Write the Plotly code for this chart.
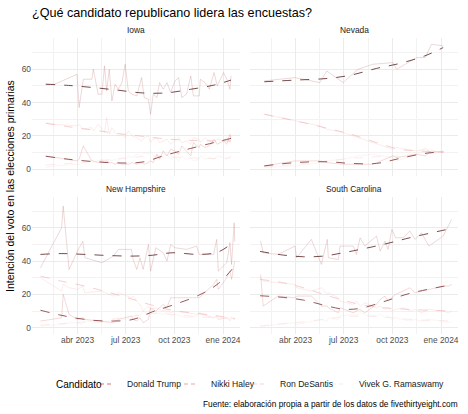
import plotly.graph_objects as go

# --- candidates and colours ---
candidatos = ["Donald Trump", "Nikki Haley", "Ron DeSantis", "Vivek G. Ramaswamy"]
col_raw = ["rgba(190,110,110,0.45)", "rgba(205,105,105,0.42)",
           "rgba(240,170,170,0.38)", "rgba(246,210,210,0.4)"]
col_fit = ["rgba(95,45,45,0.85)", "rgba(125,50,50,0.8)",
           "rgba(240,175,175,0.6)", "rgba(248,222,222,0.6)"]
col_key = ["#cf7a7a", "#e9a5a5", "#f5d3d3", "#fbeaea"]

# --- Iowa polls ---
ia_dates = ["2023-01-31", "2023-02-17", "2023-03-31", "2023-04-04", "2023-04-12", "2023-04-28",
            "2023-05-01", "2023-05-10", "2023-05-17", "2023-05-22", "2023-05-26", "2023-05-31",
            "2023-06-05", "2023-06-11", "2023-06-17", "2023-06-24", "2023-06-30", "2023-07-06",
            "2023-07-13", "2023-07-22", "2023-07-31", "2023-08-05", "2023-08-13", "2023-08-17",
            "2023-08-22", "2023-08-29", "2023-09-03", "2023-09-10", "2023-09-17", "2023-09-24",
            "2023-10-02", "2023-10-09", "2023-10-15", "2023-10-24", "2023-11-01", "2023-11-06",
            "2023-11-17", "2023-11-19", "2023-11-28", "2023-12-06", "2023-12-15", "2023-12-21",
            "2024-01-02", "2024-01-08", "2024-01-14", "2024-01-16"]
ia_trump = [51, 51, 57, 37, 54, 54, 60, 45, 45, 62, 47, 60, 41, 51, 48, 52, 63, 47, 45, 44,
            55, 43, 42, 33, 45, 43, 52, 48, 52, 46, 53, 55, 43, 45, 56, 44, 44, 54, 52, 48,
            58, 50, 58, 54, 48, 56]
ia_haley = [8, 7, 5, 6, 14, 5, 5, 4, 5, 4, 5, 4, 4, 3, 4, 3, 3, 3, 4, 3,
            4, 3, 4, 5, 4, 9, 6, 11, 8, 12, 11, 9, 14, 11, 8, 16, 13, 15, 13, 14,
            18, 15, 17, 15, 21, 18]
ia_desantis = [28, 27, 26, 27, 24, 25, 23, 27, 24, 22, 31, 21, 25, 22, 20, 21, 19, 23, 20, 19,
               17, 19, 20, 16, 18, 19, 16, 17, 18, 15, 17, 19, 16, 17, 15, 19, 18, 16, 19, 17,
               16, 18, 17, 19, 16, 20]
ia_vivek = [1, 2, 3, 3, 4, 5, 4, 5, 6, 5, 4, 6, 5, 6, 5, 7, 6, 8, 7, 9,
            8, 10, 9, 11, 8, 9, 8, 7, 9, 6, 7, 5, 8, 6, 7, 5, 6, 8, 6, 7,
            6, 8, 7, 6, 8, 7]
ia_fit_dates = ["2023-01-31", "2023-03-15", "2023-05-01", "2023-06-15", "2023-08-01",
                "2023-09-15", "2023-11-01", "2023-12-15", "2024-01-16"]
ia_trump_fit = [51, 50.3, 49, 47.5, 45.8, 45.8, 48, 50.5, 53.5]
ia_haley_fit = [7.8, 6, 4.6, 3.8, 4.3, 8.5, 12.5, 16, 18.5]
ia_desantis_fit = [27.5, 25.5, 23.5, 21.5, 19.8, 18.2, 17.3, 17, 17]
ia_vivek_fit = [2.5, 3.5, 4.8, 6.2, 7.5, 7.5, 6.8, 6.5, 6.8]

# --- Nevada polls ---
nv_dates = ["2023-02-01", "2023-03-31", "2023-05-17", "2023-05-30", "2023-06-30", "2023-07-28",
            "2023-08-25", "2023-10-02", "2023-10-09", "2023-11-16", "2023-12-02", "2023-12-14",
            "2024-01-05"]
nv_trump = [53, 55, 52, 59, 52, 60, 63, 64, 60, 67, 67, 75, 74]
nv_haley = [2, 5, 5, 4, 3, 3, 3, 8, 7, 9, 8, 11, 10]
nv_desantis = [33, 29, 26, 24, 22, 19, 16, 12, 13, 11, 12, 10, 11]
nv_vivek = [1, 2, 4, 5, 6, 8, 9, 7, 5, 9, 13, 10, 10]
nv_fit_dates = ["2023-02-01", "2023-04-01", "2023-06-01", "2023-07-15", "2023-09-01",
                "2023-10-15", "2023-12-01", "2024-01-05"]
nv_trump_fit = [52.5, 53.5, 54.5, 56.5, 60.5, 63.5, 68, 73]
nv_haley_fit = [2, 4, 4.5, 3.5, 3.5, 6.5, 9.5, 10.5]
nv_desantis_fit = [33, 29, 24.5, 21, 16, 12, 10.8, 10.5]
nv_vivek_fit = [1.5, 3, 5, 6.5, 7.5, 8, 9.5, 10]

# --- New Hampshire polls ---
nh_dates = ["2023-01-21", "2023-03-02", "2023-03-05", "2023-03-16", "2023-04-01", "2023-04-11",
            "2023-04-15", "2023-05-17", "2023-06-08", "2023-06-17", "2023-07-12", "2023-07-15",
            "2023-07-22", "2023-07-28", "2023-08-03", "2023-08-13", "2023-08-17", "2023-08-27",
            "2023-09-10", "2023-09-17", "2023-09-24", "2023-10-02", "2023-10-24", "2023-11-12",
            "2023-11-17", "2023-12-14", "2023-12-20", "2023-12-23", "2024-01-08", "2024-01-14",
            "2024-01-17", "2024-01-22", "2024-01-23"]
nh_trump = [36, 60, 73, 35, 46, 52, 42, 39, 43, 47, 47, 41, 35, 42, 35, 50, 34, 48, 45, 40,
            50, 48, 47, 49, 44, 44, 53, 34, 39, 51, 38, 63, 52]
nh_haley = [4, 6, 20, 8, 5, 6, 5, 4, 3, 5, 7, 5, 4, 6, 3, 5, 12, 10, 14, 12,
            18, 18, 18, 18, 18, 26, 29, 23, 30, 34, 29, 38, 40]
nh_desantis = [30, 22, 26, 24, 23, 25, 21, 22, 19, 21, 18, 19, 16, 14, 10, 13, 11, 12, 10, 11,
               9, 10, 9, 8, 9, 6, 7, 5, 6, 4, 6, 5, 6]
nh_vivek = [1, 2, 2, 3, 3, 2, 4, 3, 5, 4, 6, 5, 8, 7, 10, 8, 11, 9, 8, 10,
            7, 8, 6, 7, 8, 6, 7, 5, 6, 5, 7, 5, 6]
nh_fit_dates = ["2023-01-21", "2023-03-01", "2023-04-15", "2023-06-01", "2023-07-15",
                "2023-08-20", "2023-09-27", "2023-11-16", "2023-12-23", "2024-01-23"]
nh_trump_fit = [44, 44.5, 44, 43.3, 43, 43.5, 45, 44, 45.5, 52]
nh_haley_fit = [10.5, 7.5, 5, 4, 5, 9.5, 13.5, 19.5, 26.5, 37]
nh_desantis_fit = [31, 28, 25, 21, 17, 13.5, 10.5, 8.5, 7, 5.5]
nh_vivek_fit = [1.5, 2.5, 3.5, 5, 7, 8.5, 8, 6.5, 6, 5.5]

# --- South Carolina polls ---
sc_dates = ["2023-01-25", "2023-01-30", "2023-02-27", "2023-03-31", "2023-04-03", "2023-05-01",
            "2023-05-20", "2023-05-31", "2023-06-02", "2023-06-21", "2023-06-24", "2023-07-19",
            "2023-07-25", "2023-08-01", "2023-08-10", "2023-09-01", "2023-09-08", "2023-09-17",
            "2023-09-23", "2023-09-30", "2023-10-07", "2023-10-21", "2023-11-03", "2023-11-13",
            "2023-11-25", "2023-12-09", "2024-01-05", "2024-01-15", "2024-01-21"]
sc_trump = [52, 45, 44, 49, 42, 53, 38, 53, 42, 41, 49, 49, 44, 54, 49, 55, 46, 52, 47, 59,
            54, 54, 58, 53, 57, 49, 55, 61, 65]
sc_haley = [32, 13, 19, 18, 19, 19, 13, 13, 12, 9, 12, 9, 10, 11, 9, 14, 17, 19, 16, 18,
            20, 22, 24, 21, 22, 23, 25, 25, 26]
sc_desantis = [30, 28, 27, 26, 24, 22, 24, 20, 21, 18, 16, 14, 16, 13, 15, 12, 13, 11, 12, 10,
               11, 12, 10, 11, 9, 11, 10, 9, 10]
sc_vivek = [1, 1, 2, 3, 2, 4, 5, 4, 6, 5, 7, 8, 7, 9, 8, 7, 8, 6, 7, 5,
            6, 5, 4, 5, 4, 5, 4, 3, 4]
sc_fit_dates = ["2023-01-24", "2023-03-09", "2023-04-16", "2023-05-24", "2023-06-30",
                "2023-08-01", "2023-09-14", "2023-11-03", "2024-01-21"]
sc_trump_fit = [45.8, 43.6, 42.6, 43, 45, 47, 50, 54, 59.6]
sc_haley_fit = [19.2, 18.2, 16.6, 13.6, 11.2, 11.6, 15.6, 20.6, 25.8]
sc_desantis_fit = [29, 27, 24, 20, 16.5, 14, 12, 11, 10]
sc_vivek_fit = [1, 2.5, 3.5, 5, 6.5, 7, 6.5, 5, 4]

# ticks
x_ticks = ["2023-04-01", "2023-07-01", "2023-10-01", "2024-01-01"]
x_labels = ["abr 2023", "jul 2023", "oct 2023", "ene 2024"]
x_minor = ["2023-02-14", "2023-05-16", "2023-08-16", "2023-11-16"]
y_ticks = [0, 20, 40, 60]
y_minor = [10, 30, 50, 70]

estados = [
    ("Iowa", ia_dates, [ia_trump, ia_haley, ia_desantis, ia_vivek],
     ia_fit_dates, [ia_trump_fit, ia_haley_fit, ia_desantis_fit, ia_vivek_fit]),
    ("Nevada", nv_dates, [nv_trump, nv_haley, nv_desantis, nv_vivek],
     nv_fit_dates, [nv_trump_fit, nv_haley_fit, nv_desantis_fit, nv_vivek_fit]),
    ("New Hampshire", nh_dates, [nh_trump, nh_haley, nh_desantis, nh_vivek],
     nh_fit_dates, [nh_trump_fit, nh_haley_fit, nh_desantis_fit, nh_vivek_fit]),
    ("South Carolina", sc_dates, [sc_trump, sc_haley, sc_desantis, sc_vivek],
     sc_fit_dates, [sc_trump_fit, sc_haley_fit, sc_desantis_fit, sc_vivek_fit]),
]

W, H = 468, 414
# panel boxes in pixels (left, right, top, bottom)
panels = [(32, 240, 38, 175.5), (250, 458, 38, 175.5),
          (32, 240, 196.5, 334), (250, 458, 196.5, 334)]


def fx(p):
    return p / W


def fy(p):
    return 1 - p / H


fig = go.Figure()

# raw polls below, smoothed trend on top
for i, (nombre, fechas, series, fit_fechas, fits) in enumerate(estados):
    ax = "" if i == 0 else str(i + 1)
    for k in range(3, -1, -1):
        fig.add_trace(go.Scatter(
            x=fechas, y=series[k], mode="lines", name=candidatos[k],
            line=dict(color=col_raw[k], width=0.6),
            xaxis="x" + ax, yaxis="y" + ax, showlegend=False, hoverinfo="skip"))
    for k in range(3, -1, -1):
        fig.add_trace(go.Scatter(
            x=fit_fechas, y=fits[k], mode="lines", name=candidatos[k],
            line=dict(color=col_fit[k], width=1, dash="dash", shape="spline", smoothing=1),
            xaxis="x" + ax, yaxis="y" + ax, showlegend=False, hoverinfo="skip"))

layout = {}
annotations = []
shapes = []
for i, (l, r, t, b) in enumerate(panels):
    ax = "" if i == 0 else str(i + 1)
    layout["xaxis" + ax] = dict(
        domain=[fx(l), fx(r)], anchor="y" + ax,
        range=["2023-01-05", "2024-02-02"], type="date",
        tickvals=x_ticks, ticktext=x_labels, showticklabels=(i >= 2),
        tickfont=dict(size=8.4, color="#4d4d4d"),
        showgrid=True, gridcolor="#ebebeb", gridwidth=0.9,
        minor=dict(tickvals=x_minor, showgrid=True, gridcolor="#f2f2f2", gridwidth=0.5),
        zeroline=False, showline=False, ticks="")
    layout["yaxis" + ax] = dict(
        domain=[fy(b), fy(t)], anchor="x" + ax,
        range=[-3.75, 78.75], tickvals=y_ticks, showticklabels=(i % 2 == 0),
        tickfont=dict(size=8.4, color="#4d4d4d"),
        showgrid=True, gridcolor="#ebebeb", gridwidth=0.9,
        minor=dict(tickvals=y_minor, showgrid=True, gridcolor="#f2f2f2", gridwidth=0.5),
        zeroline=False, showline=False, ticks="")
    annotations.append(dict(
        text=estados[i][0], x=fx((l + r) / 2), y=fy(t - 8),
        xref="paper", yref="paper", showarrow=False,
        xanchor="center", yanchor="middle",
        font=dict(size=8.4, color="#1a1a1a")))

annotations.append(dict(
    text="Intención del voto en las elecciones primarias",
    x=fx(10), y=fy(186), xref="paper", yref="paper", showarrow=False,
    textangle=-90, xanchor="center", yanchor="middle",
    font=dict(size=10.5, color="#000000")))
annotations.append(dict(
    text="Fuente: elaboración propia a partir de los datos de fivethirtyeight.com",
    x=fx(460), y=fy(404), xref="paper", yref="paper", showarrow=False,
    xanchor="right", yanchor="middle",
    font=dict(size=8.3, color="#000000")))

# legend drawn as text + dashed keys
annotations.append(dict(
    text="Candidato", x=fx(54), y=fy(384), xref="paper", yref="paper",
    showarrow=False, xanchor="left", yanchor="middle",
    font=dict(size=10, color="#000000")))
label_x = [125, 209, 278, 357]
for k, c in enumerate(candidatos):
    annotations.append(dict(
        text=c, x=fx(label_x[k]), y=fy(384), xref="paper", yref="paper",
        showarrow=False, xanchor="left", yanchor="middle",
        font=dict(size=8.6, color="#1a1a1a")))
    shapes.append(dict(
        type="line", xref="paper", yref="paper",
        x0=fx(label_x[k] - 25), x1=fx(label_x[k] - 11), y0=fy(384), y1=fy(384),
        line=dict(color=col_key[k], width=1, dash="4px,3px")))

fig.update_layout(
    **layout,
    annotations=annotations,
    shapes=shapes,
    showlegend=False,
    width=W, height=H,
    margin=dict(l=0, r=0, t=0, b=0),
    paper_bgcolor="white", plot_bgcolor="white",
    font=dict(family="Liberation Sans, Arial, sans-serif"),
    title=dict(text="¿Qué candidato republicano lidera las encuestas?",
               x=fx(32), xanchor="left", y=fy(13), yanchor="middle",
               font=dict(size=12.6, color="#000000")),
)

fig.write_html("out.html", config={"displayModeBar": False},
               post_script="document.body.style.margin='0';")
